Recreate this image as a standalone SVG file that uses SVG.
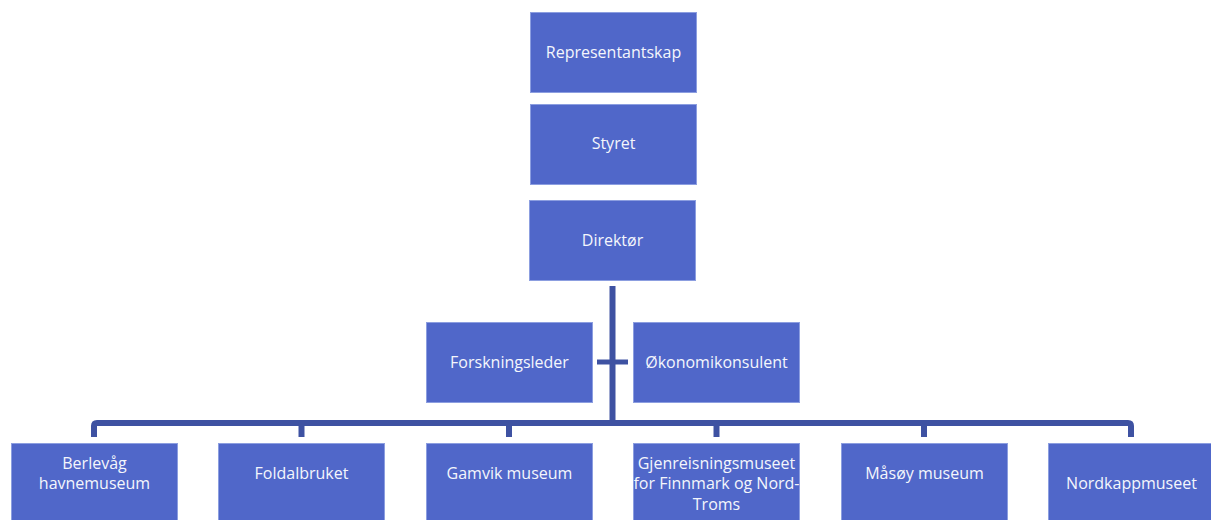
<svg xmlns="http://www.w3.org/2000/svg" width="1211" height="520" viewBox="0 0 1211 520">
<style>
.box{fill:#5067C9;stroke:#8C9EE0;stroke-width:1}
.t{font-family:"Open Sans","Liberation Sans",sans-serif;font-size:16px;fill:#F4F6FC;text-anchor:middle}
.c{stroke:#3E52A2;stroke-width:6;fill:none;stroke-linejoin:round}
</style>
<rect width="1211" height="520" fill="#ffffff"/>
<g id="connectors">
<line class="c" x1="612.5" y1="286" x2="612.5" y2="423"/>
<line class="c" x1="597" y1="362" x2="628" y2="362" style="stroke-width:5"/>
<path class="c" d="M94 437 V426 Q94 423 97 423 H1128 Q1131 423 1131 426 V437"/>
<line class="c" x1="301.5" y1="423" x2="301.5" y2="437"/>
<line class="c" x1="509" y1="423" x2="509" y2="437"/>
<line class="c" x1="716.5" y1="423" x2="716.5" y2="437"/>
<line class="c" x1="924" y1="423" x2="924" y2="437"/>
</g>
<g id="n-representantskap"><rect class="box" x="530.5" y="12.5" width="166" height="80"/><text class="t" x="613.5" y="57.5">Representantskap</text></g>
<g id="n-styret"><rect class="box" x="530.5" y="104.5" width="166" height="80"/><text class="t" x="613.5" y="148.5">Styret</text></g>
<g id="n-direktor"><rect class="box" x="529.5" y="200.5" width="166" height="80"/><text class="t" x="612.5" y="245.5">Direktør</text></g>
<g id="n-forskningsleder"><rect class="box" x="426.5" y="322.5" width="166" height="80"/><text class="t" x="509.5" y="367.5">Forskningsleder</text></g>
<g id="n-okonomikonsulent"><rect class="box" x="633.5" y="322.5" width="166" height="80"/><text class="t" x="716.5" y="367.5">Økonomikonsulent</text></g>
<g id="n-berlevag"><rect class="box" x="11.5" y="443.5" width="166" height="80"/><text class="t" x="94.5" y="468.5">Berlevåg</text><text class="t" x="94.5" y="488.5">havnemuseum</text></g>
<g id="n-foldalbruket"><rect class="box" x="218.5" y="443.5" width="166" height="80"/><text class="t" x="301.5" y="478.5">Foldalbruket</text></g>
<g id="n-gamvik"><rect class="box" x="426.5" y="443.5" width="166" height="80"/><text class="t" x="509.5" y="478.5">Gamvik museum</text></g>
<g id="n-gjenreisning"><rect class="box" x="633.5" y="443.5" width="166" height="80"/><text class="t" x="716.5" y="468.5">Gjenreisningsmuseet</text><text class="t" x="716.5" y="488.5">for Finnmark og Nord-</text><text class="t" x="716.5" y="509.5">Troms</text></g>
<g id="n-masoy"><rect class="box" x="841.5" y="443.5" width="166" height="80"/><text class="t" x="924.5" y="478.5">Måsøy museum</text></g>
<g id="n-nordkapp"><rect class="box" x="1048.5" y="443.5" width="166" height="80"/><text class="t" x="1131.5" y="488.5">Nordkappmuseet</text></g>
</svg>
